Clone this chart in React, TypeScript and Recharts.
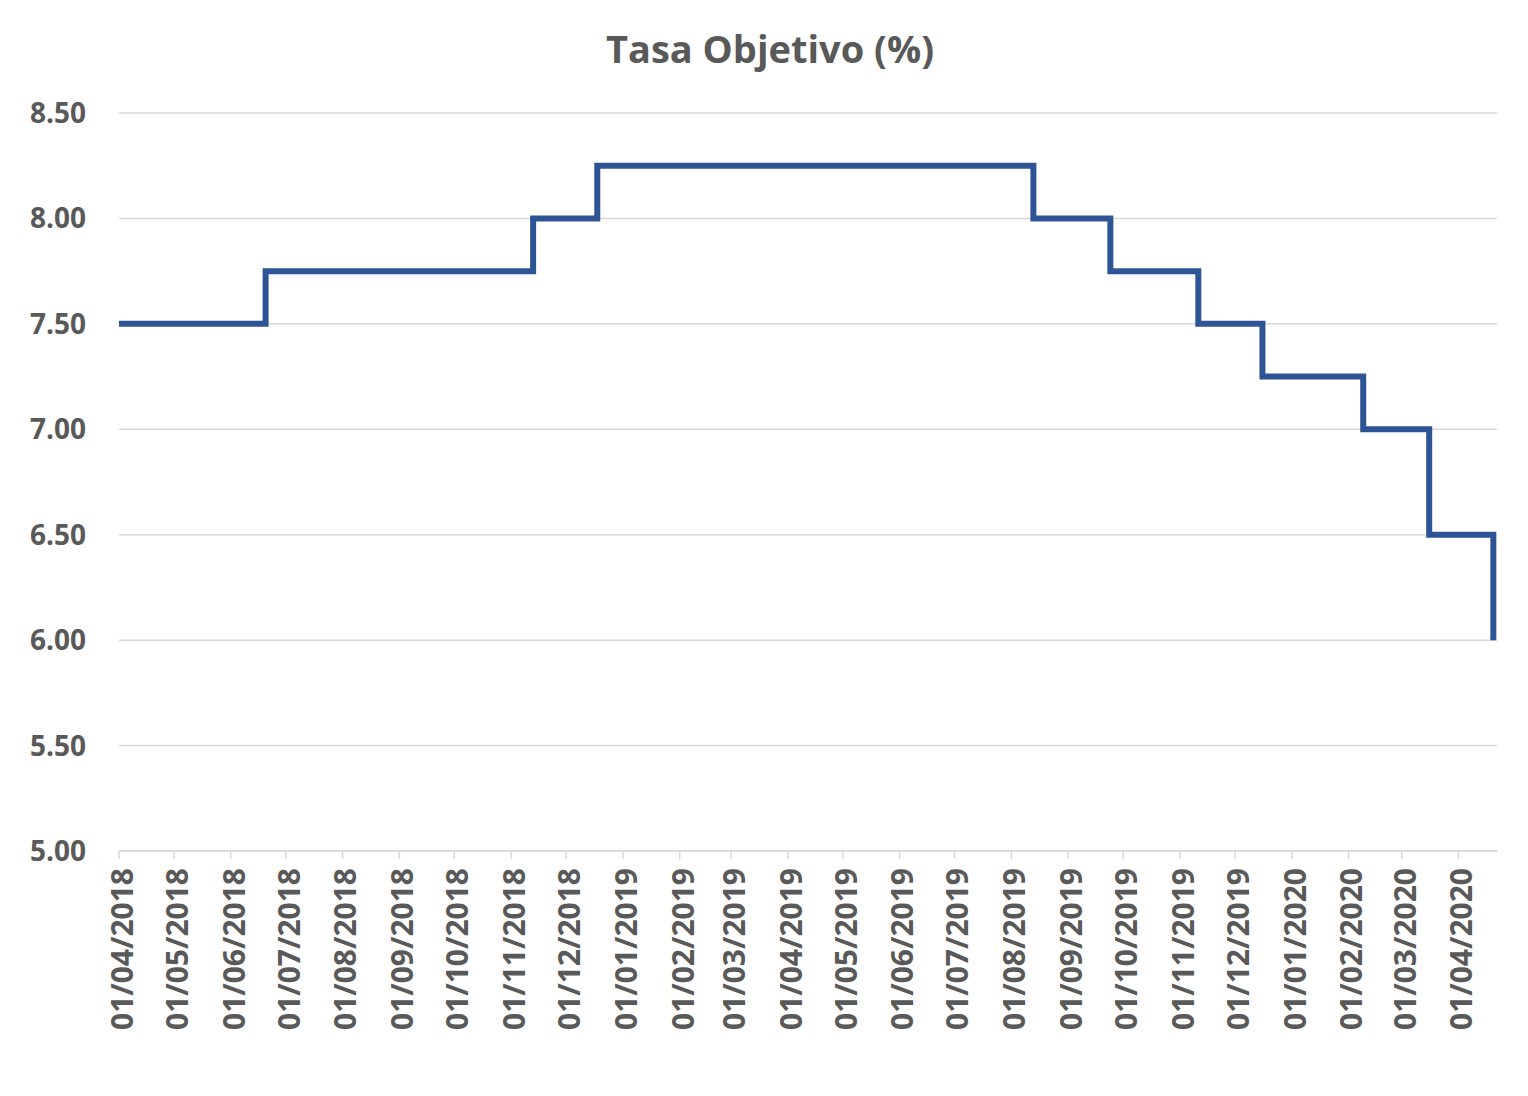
import React from "react";
import { LineChart, Line, XAxis, YAxis, CartesianGrid } from "recharts";

const changeDates = [
  "2018-04-01",
  "2018-06-20",
  "2018-11-13",
  "2018-12-18",
  "2019-08-13",
  "2019-09-24",
  "2019-11-11",
  "2019-12-16",
  "2020-02-09",
  "2020-03-16",
  "2020-04-20",
];
const targetRates = [7.5, 7.75, 8.0, 8.25, 8.0, 7.75, 7.5, 7.25, 7.0, 6.5, 6.0];

const tickDates = [
  "2018-04-01", "2018-05-01", "2018-06-01", "2018-07-01", "2018-08-01", "2018-09-01",
  "2018-10-01", "2018-11-01", "2018-12-01", "2019-01-01", "2019-02-01", "2019-03-01",
  "2019-04-01", "2019-05-01", "2019-06-01", "2019-07-01", "2019-08-01", "2019-09-01",
  "2019-10-01", "2019-11-01", "2019-12-01", "2020-01-01", "2020-02-01", "2020-03-01",
  "2020-04-01",
];
const yTicks = [5.0, 5.5, 6.0, 6.5, 7.0, 7.5, 8.0, 8.5];
const domainStart = "2018-04-01";
const domainEnd = "2020-04-22";

const toTs = (s: string) => Date.parse(s + "T00:00:00Z");

const data = changeDates.map((d, i) => ({ t: toTs(d), rate: targetRates[i] }));

const fmtDate = (v: number) => {
  const d = new Date(v);
  const dd = String(d.getUTCDate()).padStart(2, "0");
  const mm = String(d.getUTCMonth() + 1).padStart(2, "0");
  return `${dd}/${mm}/${d.getUTCFullYear()}`;
};

const FONT = "'Open Sans', 'Liberation Sans', sans-serif";
const GRAY = "#595959";

const XTick = (props: any) => {
  const { x, y, payload } = props;
  return (
    <g transform={`translate(${x},${y})`}>
      <text
        transform="rotate(-90)"
        x={-7}
        y={3}
        dy="0.36em"
        textAnchor="end"
        fill={GRAY}
        fontFamily={FONT}
        fontWeight={700}
        fontSize={30}
      >
        {fmtDate(payload.value)}
      </text>
    </g>
  );
};

export default function App() {
  return (
    <div style={{ position: "relative", width: 1512, height: 1080, background: "#fff" }}>
      <div
        style={{
          position: "absolute",
          top: 21,
          left: 0,
          width: 1524,
          textAlign: "center",
          fontFamily: FONT,
          fontWeight: 700,
          fontSize: 38,
          lineHeight: "38px",
          color: GRAY,
        }}
      >
        Tasa Objetivo (%)
      </div>
      <LineChart
        width={1512}
        height={1080}
        data={data}
        margin={{ top: 105, right: 23, left: 0, bottom: 37 }}
      >
        <CartesianGrid horizontal={true} vertical={false} stroke="#d9d9d9" strokeWidth={1.5} />
        <XAxis
          dataKey="t"
          type="number"
          scale="linear"
          domain={[toTs(domainStart), toTs(domainEnd)]}
          ticks={tickDates.map(toTs)}
          interval={0}
          height={200}
          axisLine={{ stroke: "#d9d9d9", strokeWidth: 1.5 }}
          tickLine={{ stroke: "#d9d9d9", strokeWidth: 1.5 }}
          tickSize={8}
          tickMargin={2}
          tick={<XTick />}
          allowDataOverflow
        />
        <YAxis
          type="number"
          domain={[5, 8.5]}
          ticks={yTicks}
          interval={0}
          width={111}
          axisLine={false}
          tickLine={false}
          tickSize={0}
          tickMargin={33}
          tickFormatter={(v: number) => v.toFixed(2)}
          tick={{ fill: GRAY, fontFamily: FONT, fontWeight: 700, fontSize: 28 }}
          allowDataOverflow
        />
        <Line
          type="stepAfter"
          dataKey="rate"
          stroke="#2f5496"
          strokeWidth={6}
          dot={false}
          isAnimationActive={false}
          strokeLinejoin="miter"
        />
      </LineChart>
    </div>
  );
}
